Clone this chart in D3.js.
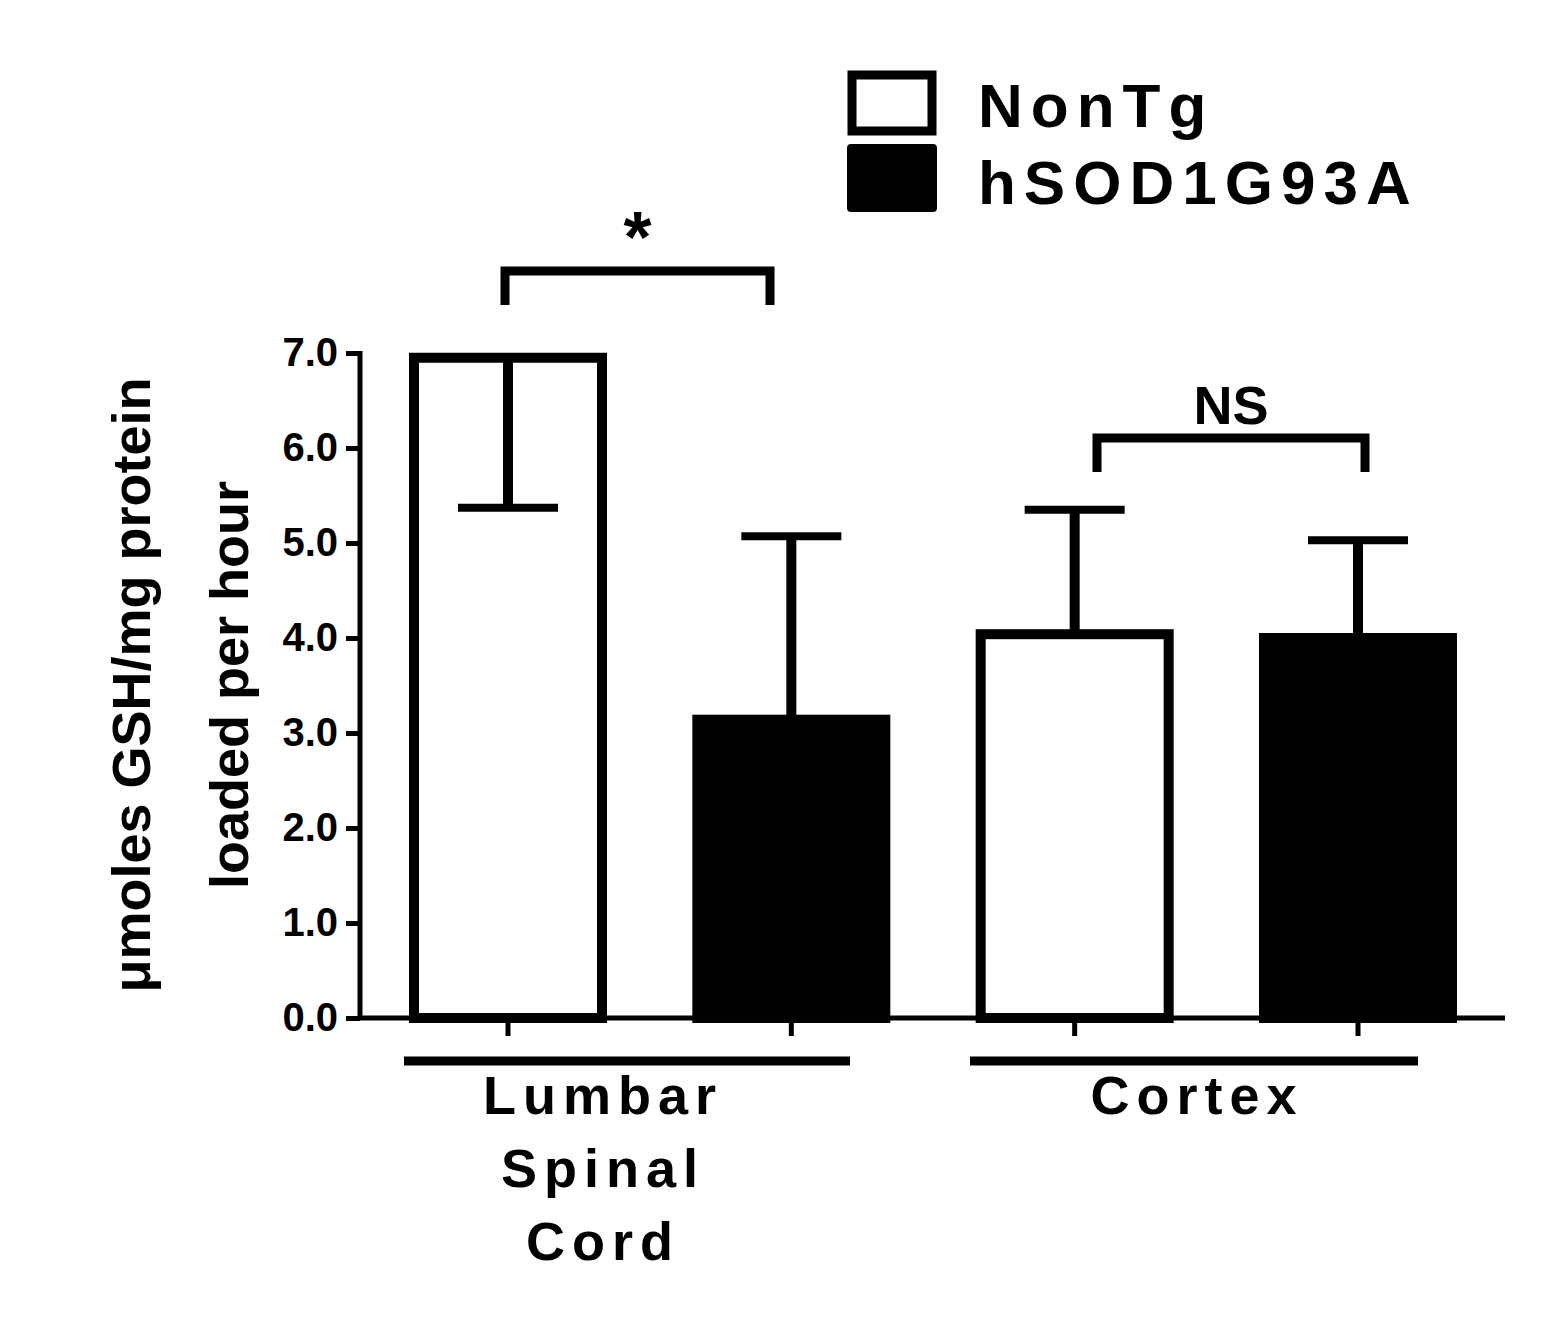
<!DOCTYPE html>
<html><head><meta charset="utf-8">
<script src="https://cdn.jsdelivr.net/npm/d3@7"></script>
<style>body{margin:0;background:#fff}text{font-family:"Liberation Sans",Arial,sans-serif;font-weight:bold}</style>
</head><body>
<svg id="chart" width="1567" height="1327"></svg>
<script>
var groups = ["Lumbar Spinal Cord", "Cortex"];
var series = ["NonTg", "hSOD1G93A"];
var means = [6.95, 3.14, 4.04, 4.0];
var errEnds = [5.37, 5.07, 5.35, 5.03];
var yTicks = [0, 1, 2, 3, 4, 5, 6, 7];

var svg = d3.select("#chart");
var y = d3.scaleLinear().domain([0, 7]).range([1018, 353]);
var x = d3.scaleLinear().domain([0, 3]).range([508, 1358]);
var barW = 188;

// y axis
var yAxis = svg.append("g").attr("transform", "translate(360,0)")
  .call(d3.axisLeft(y).tickValues(yTicks).tickSize(14).tickPadding(8));
yAxis.select(".domain").attr("stroke-width", 5).attr("d", "M0," + y(0) + "V" + (y(7) - 2));
yAxis.selectAll(".tick line").attr("stroke-width", 5);
yAxis.selectAll(".tick text").attr("font-size", 40).attr("font-family", "Liberation Sans").attr("font-weight", "bold");

// bars
var fills = ["#fff", "#000"];
svg.selectAll(".bar").data(means).enter().append("rect")
  .attr("x", (d, i) => x(i) - barW / 2).attr("width", barW)
  .attr("y", d => y(d)).attr("height", d => y(0) - y(d))
  .attr("fill", (d, i) => fills[i % 2]).attr("stroke", "#000").attr("stroke-width", 10);

// error bars
means.forEach(function(m, i) {
  svg.append("line").attr("x1", x(i)).attr("x2", x(i)).attr("y1", y(m)).attr("y2", y(errEnds[i]))
    .attr("stroke", "#000").attr("stroke-width", 10);
  svg.append("line").attr("x1", x(i) - 50).attr("x2", x(i) + 50).attr("y1", y(errEnds[i])).attr("y2", y(errEnds[i]))
    .attr("stroke", "#000").attr("stroke-width", 8);
});

// x axis
svg.append("line").attr("x1", 358).attr("x2", 1505).attr("y1", y(0)).attr("y2", y(0)).attr("stroke", "#000").attr("stroke-width", 5);
means.forEach(function(m, i) {
  svg.append("line").attr("x1", x(i)).attr("x2", x(i)).attr("y1", y(0)).attr("y2", y(0) + 18).attr("stroke", "#000").attr("stroke-width", 5);
});

// group lines and labels
var groupLines = [[404, 850], [970, 1418]];
groupLines.forEach(function(g) {
  svg.append("line").attr("x1", g[0]).attr("x2", g[1]).attr("y1", 1061).attr("y2", 1061).attr("stroke", "#000").attr("stroke-width", 9);
});
var lumbar = ["Lumbar", "Spinal", "Cord"];
lumbar.forEach(function(t, i) {
  svg.append("text").attr("x", 603).attr("y", 1114 + i * 73).attr("text-anchor", "middle")
    .attr("font-size", 54).attr("letter-spacing", 7).text(t);
});
svg.append("text").attr("x", 1197).attr("y", 1114).attr("text-anchor", "middle")
  .attr("font-size", 54).attr("letter-spacing", 7).text("Cortex");

// brackets
function bracket(x1, x2, yt, label, ly, fs) {
  svg.append("path").attr("d", "M" + x1 + "," + (yt + 34) + "V" + yt + "H" + x2 + "V" + (yt + 34))
    .attr("fill", "none").attr("stroke", "#000").attr("stroke-width", 9);
  svg.append("text").attr("x", (x1 + x2) / 2).attr("y", ly).attr("text-anchor", "middle").attr("font-size", fs).text(label);
}
bracket(505, 770, 271, "*", 262, 72);
bracket(1097, 1365, 438, "NS", 424, 54);

// y label
var yl = svg.append("text").attr("transform", "translate(150,685) rotate(-90)").attr("text-anchor", "middle").attr("font-size", 54);
yl.append("tspan").attr("x", 0).attr("dy", 0).text("\u03bcmoles GSH/mg protein");
yl.append("tspan").attr("x", 0).attr("dy", 98).text("loaded per hour");

// legend
svg.append("rect").attr("x", 852).attr("y", 75).attr("width", 80).attr("height", 56).attr("fill", "#fff").attr("stroke", "#000").attr("stroke-width", 9);
svg.append("rect").attr("x", 847).attr("y", 144).attr("width", 90).attr("height", 68).attr("rx", 4).attr("fill", "#000");
svg.append("text").attr("x", 978).attr("y", 127).attr("font-size", 62).attr("letter-spacing", 8).text(series[0]);
svg.append("text").attr("x", 978).attr("y", 204).attr("font-size", 62).attr("letter-spacing", 8).text(series[1]);
</script>
</body></html>
